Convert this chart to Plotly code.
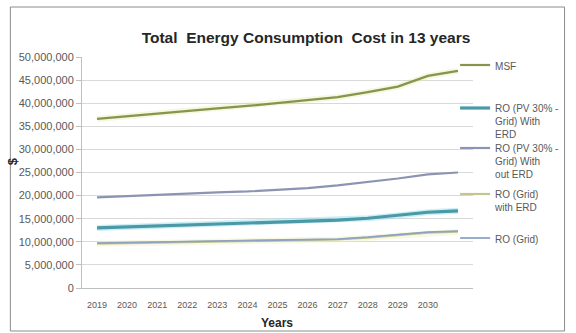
import plotly.graph_objects as go

# Chart data (annual totals in $)
years = [2019, 2020, 2021, 2022, 2023, 2024, 2025, 2026, 2027, 2028, 2029, 2030, 2031]
tick_labels = ["2019", "2020", "2021", "2022", "2023", "2024", "2025",
               "2026", "2027", "2028", "2029", "2030"]

msf = [36.6e6, 37.2e6, 37.7e6, 38.3e6, 38.9e6, 39.4e6, 40.0e6,
       40.6e6, 41.3e6, 42.4e6, 43.6e6, 45.9e6, 47.0e6]
ro_pv_erd = [13.0e6, 13.2e6, 13.4e6, 13.6e6, 13.8e6, 14.0e6, 14.2e6,
             14.4e6, 14.7e6, 15.1e6, 15.7e6, 16.4e6, 16.7e6]
ro_pv_no_erd = [19.6e6, 19.9e6, 20.1e6, 20.4e6, 20.7e6, 20.9e6, 21.2e6,
                21.6e6, 22.2e6, 22.9e6, 23.7e6, 24.6e6, 25.0e6]
ro_grid_erd = [9.6e6, 9.7e6, 9.8e6, 9.9e6, 10.0e6, 10.1e6, 10.2e6,
               10.3e6, 10.5e6, 10.9e6, 11.4e6, 12.0e6, 12.2e6]
ro_grid = [9.7e6, 9.8e6, 9.9e6, 10.0e6, 10.1e6, 10.2e6, 10.3e6,
           10.4e6, 10.6e6, 11.0e6, 11.5e6, 12.1e6, 12.3e6]

W, H = 576, 333
L, R, T, B = 82, 101, 57, 45
PW, PH = W - L - R, H - T - B


def px_x(x):
    return (x - L) / PW


def px_y(y):
    return (H - B - y) / PH


fig = go.Figure()

# soft glow under the main lines
for vals, col, w in [(msf, "rgba(220,228,140,0.28)", 6),
                     (ro_pv_erd, "rgba(140,220,236,0.45)", 6),
                     (ro_grid_erd, "rgba(240,240,180,0.40)", 6)]:
    fig.add_trace(go.Scatter(x=years, y=vals, mode="lines", hoverinfo="skip",
                             line=dict(color=col, width=w), showlegend=False))

series = [
    ("MSF", msf, "#86944c", 2.2, "legend"),
    ("RO (PV 30% -<br>Grid) With<br>ERD", ro_pv_erd, "#4b98a6", 3.2, "legend2"),
    ("RO (PV 30% -<br>Grid) With<br>out ERD", ro_pv_no_erd, "#8b94b2", 2.2, "legend3"),
    ("RO (Grid)<br>with ERD", ro_grid_erd, "#c4c690", 2.2, "legend4"),
    ("RO (Grid)", ro_grid, "#8fa2c6", 1.8, "legend5"),
]
for name, vals, col, w, lg in series:
    fig.add_trace(go.Scatter(x=years, y=vals, mode="lines", name=name,
                             line=dict(color=col, width=w), legend=lg))

legend_tops = [52, 95, 135, 181, 225]
legend_common = dict(xanchor="left", yanchor="top", valign="top",
                     bgcolor="rgba(0,0,0,0)", borderwidth=0,
                     font=dict(family="Liberation Sans, Arial, sans-serif",
                               size=10, color="#595959"))
legend_layout = {}
for i, top in enumerate(legend_tops):
    key = "legend" if i == 0 else f"legend{i + 1}"
    legend_layout[key] = dict(x=px_x(457), y=px_y(top), **legend_common)

fig.update_layout(
    width=W, height=H,
    margin=dict(l=L, r=R, t=T, b=B),
    paper_bgcolor="white", plot_bgcolor="white",
    font=dict(family="Liberation Sans, Arial, sans-serif", color="#595959"),
    title=dict(text="Total&nbsp; Energy Consumption&nbsp; Cost in 13 years",
               x=306 / W, xanchor="center", y=1 - 38 / H, yanchor="middle",
               font=dict(size=15.5, color="#262626", weight="bold")),
    xaxis=dict(range=[2018.5, 2031.5], tickvals=years[:len(tick_labels)],
               ticktext=tick_labels, showgrid=False, zeroline=False,
               showline=True, linecolor="#bfbfbf", linewidth=1,
               ticks="outside", ticklen=8, tickcolor="rgba(0,0,0,0)",
               tickfont=dict(size=9, color="#595959")),
    yaxis=dict(range=[0, 50e6], dtick=5e6, tickformat=",d",
               showgrid=True, gridcolor="#d9d9d9", gridwidth=1,
               zeroline=False, showline=True, linecolor="#bfbfbf",
               ticks="outside", ticklen=5, tickcolor="#bfbfbf",
               tickfont=dict(size=11, color="#595959")),
    shapes=[dict(type="rect", xref="paper", yref="paper",
                 x0=px_x(10), x1=px_x(567), y0=px_y(331), y1=px_y(7),
                 line=dict(color="#8c8c8c", width=1), layer="below")],
    annotations=[
        dict(text="Years", xref="paper", yref="paper", x=px_x(278), y=px_y(323),
             showarrow=False, xanchor="center", yanchor="middle",
             font=dict(size=12, color="#262626", weight="bold")),
        dict(text="$", xref="paper", yref="paper", x=px_x(12), y=px_y(161),
             showarrow=False, xanchor="center", yanchor="middle", textangle=-90,
             font=dict(size=13, color="#262626", weight="bold")),
    ],
    **legend_layout,
)

fig.write_html("out.html")
